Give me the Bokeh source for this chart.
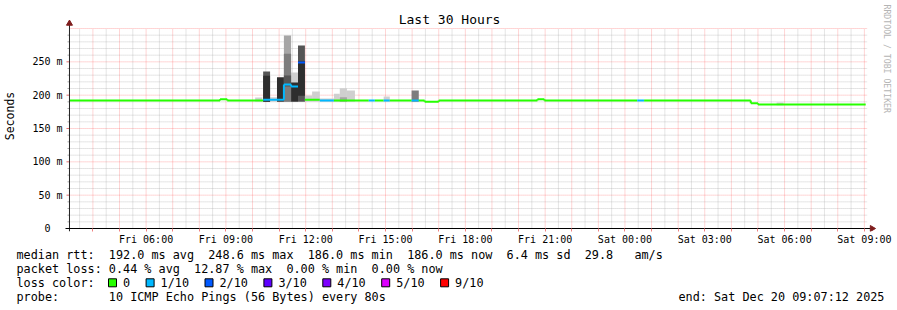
import math
from bokeh.plotting import figure
from bokeh.models import Range1d, FixedTicker, Label
from bokeh.layouts import column
from bokeh.embed import file_html
from bokeh.resources import INLINE
from bokeh.core.properties import value

MONO = "DejaVu Sans Mono"

# ---------------- data ----------------
# time axis: hours after Fri 00:00  (Fri 03:07:12 .. Sat 09:07:12)
t_start, t_end = 3.12, 33.12
x_tick_hours = [6, 9, 12, 15, 18, 21, 24, 27, 30, 33]
x_tick_labels = ["Fri 06:00", "Fri 09:00", "Fri 12:00", "Fri 15:00", "Fri 18:00",
                 "Fri 21:00", "Sat 00:00", "Sat 03:00", "Sat 06:00", "Sat 09:00"]
y_tick_values = [0, 50, 100, 150, 200, 250]
y_tick_labels = ["0\u00a0\u00a0", "50 m", "100 m", "150 m", "200 m", "250 m"]
y_max = 300

# median rtt (ms), piecewise by time span, with loss level (n of 10 pings lost)
med_start = [3.12, 8.78, 9.05, 10.40, 11.18, 11.45, 11.71, 11.97, 12.53, 13.06, 14.37, 14.60,
             14.93, 15.16, 15.98, 16.25, 16.47, 17.00, 20.71, 20.97, 24.46, 24.72, 28.73, 29.00]
med_end = [8.78, 9.05, 10.40, 11.18, 11.45, 11.71, 11.97, 12.53, 13.06, 14.37, 14.60, 14.93,
           15.16, 15.98, 16.25, 16.47, 17.00, 20.71, 20.97, 24.46, 24.72, 28.73, 29.00, 33.05]
med_rtt = [192, 194, 192, 193, 216, 213, 249, 193, 192, 192, 192, 192,
           192, 192, 192, 192, 190, 192, 194, 192, 192, 192, 188, 186]
med_loss = [0, 0, 0, 1, 1, 1, 2, 0, 1, 0, 1, 0,
            1, 0, 1, 0, 0, 0, 0, 0, 1, 0, 0, 0]

# smoke (spread of the pings): span, low/high rtt (ms), density level 1 (sparse) .. 5 (dense)
smoke_start = [10.10, 10.66, 10.40, 10.40, 10.92, 11.18, 11.18, 11.18, 11.45, 11.45, 11.71, 11.71,
               11.97, 12.24, 12.53, 13.06, 13.28, 13.28, 13.55, 14.93, 15.98, 29.70]
smoke_end = [10.37, 10.92, 10.66, 10.66, 11.18, 11.45, 11.45, 11.45, 11.71, 11.71, 11.97, 11.97,
             12.24, 12.53, 13.06, 13.28, 13.55, 13.55, 13.85, 15.16, 16.25, 29.96]
smoke_lo = [190, 190, 190, 190, 190, 190, 190, 213, 190, 190, 190, 199,
            190, 190, 190, 190, 190, 190, 190, 190, 190, 185]
smoke_hi = [196.5, 197, 235.5, 229, 227, 289.5, 262, 229.5, 234, 219, 274.5, 251,
            199.5, 205.5, 195, 202, 210.5, 197, 207, 198, 207, 189]
smoke_level = [1, 1, 4, 5, 5, 2, 3, 4, 1, 5, 4, 5,
               1, 1, 1, 1, 1, 2, 1, 1, 3, 1]

loss_labels = ["0", "1/10", "2/10", "3/10", "4/10", "5/10", "9/10"]
loss_levels = [0, 1, 2, 3, 4, 5, 9]
loss_colors = ["#26ff00", "#00b8ff", "#0059ff", "#5e00ff", "#7e00ff", "#dd00ff", "#ff0000"]

stat_lines = [
    "median rtt:  192.0 ms avg  248.6 ms max  186.0 ms min  186.0 ms now  6.4 ms sd  29.8   am/s",
    "packet loss: 0.44 % avg  12.87 % max  0.00 % min  0.00 % now",
]
loss_title = "loss color:"
probe_text = "probe:       10 ICMP Echo Pings (56 Bytes) every 80s"
end_text = "end: Sat Dec 20 09:07:12 2025"
title_text = "Last 30 Hours"
y_label = "Seconds"
watermark = "RRDTOOL / TOBI OETIKER"

# ---------------- geometry (canvas px) ----------------
W, H_MAIN, H_LEG = 897, 247, 63
PL, PR = 67, 867        # plot area left/right
PT, PB = 28, 228        # plot area top/bottom (y_max / 0)
FL, FB = 60, 231        # frame left / bottom edge
kx = (t_end - t_start) / (PR - PL)     # hours per px
ky = y_max / (PB - PT)                 # ms per px


def hx(px):
    return t_start + (px - PL) * kx


def my(py):
    return (PB - py) * ky


p = figure(width=W, height=H_MAIN,
           x_range=Range1d(hx(FL), hx(W)), y_range=Range1d(my(FB), my(0)),
           output_backend="svg", toolbar_location=None, title=None,
           min_border_left=FL, min_border_right=0, min_border_top=0,
           min_border_bottom=H_MAIN - FB, background_fill_color="white",
           border_fill_color="white", outline_line_color=None)
p.xgrid.visible = False
p.ygrid.visible = False

hours_all = list(range(4, 34))
half_hours = [h + 0.5 for h in range(3, 33)]
lab_map = dict(zip(x_tick_hours, x_tick_labels))

# x axis (labels + small red ticks below the axis line)
xa = p.xaxis[0]
xa.ticker = FixedTicker(ticks=hours_all, minor_ticks=[])
xa.major_label_overrides = {h: lab_map.get(h, "") for h in hours_all}
xa.axis_line_color = None
xa.major_tick_in = 3
xa.major_tick_out = 0
xa.major_tick_line_color = "#f08080"
xa.minor_tick_line_color = None
xa.major_label_text_font = MONO
xa.major_label_text_font_size = "10px"
xa.major_label_text_color = "black"
xa.major_label_standoff = 2

# y axis (labels only; lines/ticks drawn below)
ya = p.yaxis[0]
ya.ticker = FixedTicker(ticks=y_tick_values, minor_ticks=[])
ya.major_label_overrides = dict(zip(y_tick_values, y_tick_labels))
ya.axis_line_color = None
ya.major_tick_line_color = None
ya.minor_tick_line_color = None
ya.major_tick_in = 0
ya.major_tick_out = 0
ya.major_label_standoff = 0
ya.major_label_text_font = MONO
ya.major_label_text_font_size = "10px"
ya.major_label_text_color = "black"
ya.axis_label = y_label
ya.axis_label_text_font = MONO
ya.axis_label_text_font_size = "11.5px"
ya.axis_label_text_font_style = "normal"
ya.axis_label_text_color = "black"
ya.axis_label_standoff = 12

# grid (dotted 1:1), minor grey then major red, confined to the plot area
minor_y = [v for v in range(10, y_max, 10) if v % 50]
major_y = list(range(50, y_max + 1, 50))
p.segment(x0=half_hours, y0=[0] * len(half_hours), x1=half_hours, y1=[y_max] * len(half_hours),
          line_color="#9a9a9a", line_alpha=0.5, line_dash="1 1", line_width=1)
p.segment(x0=[t_start] * len(minor_y), y0=minor_y, x1=[t_end] * len(minor_y), y1=minor_y,
          line_color="#9a9a9a", line_alpha=0.5, line_dash="1 1", line_width=1)
p.segment(x0=hours_all, y0=[0] * len(hours_all), x1=hours_all, y1=[y_max] * len(hours_all),
          line_color="#ff0000", line_alpha=0.33, line_dash="1 1", line_width=1)
p.segment(x0=[t_start] * len(major_y), y0=major_y, x1=[t_end] * len(major_y), y1=major_y,
          line_color="#ff0000", line_alpha=0.33, line_dash="1 1", line_width=1)

# y tick marks left of the axis
p.segment(x0=[hx(PL - 2)] * len(minor_y), y0=minor_y, x1=[t_start] * len(minor_y), y1=minor_y,
          line_color="#aaaaaa", line_width=1)
p.segment(x0=[hx(PL - 3)] * len(y_tick_values), y0=y_tick_values,
          x1=[t_start] * len(y_tick_values), y1=y_tick_values, line_color="#e07070", line_width=1)

# smoke
shade = {1: "#cfcfcf", 2: "#a6a6a6", 3: "#7d7d7d", 4: "#555555", 5: "#2e2e2e"}
order = sorted(range(len(smoke_start)), key=lambda i: smoke_level[i])
p.quad(left=[smoke_start[i] for i in order], right=[smoke_end[i] for i in order],
       bottom=[smoke_lo[i] for i in order], top=[smoke_hi[i] for i in order],
       fill_color=[shade[smoke_level[i]] for i in order], line_color=None)

# median line coloured by loss
col_by_level = dict(zip(loss_levels, loss_colors))
seg_col = [col_by_level[l] for l in med_loss]
p.segment(x0=med_start, y0=med_rtt, x1=med_end, y1=med_rtt, line_color=seg_col, line_width=2)
cx, cy0, cy1, cc = [], [], [], []
for i in range(len(med_start) - 1):
    if med_loss[i] == med_loss[i + 1] and med_rtt[i] != med_rtt[i + 1]:
        cx.append(med_end[i]); cy0.append(med_rtt[i]); cy1.append(med_rtt[i + 1]); cc.append(seg_col[i])
if cx:
    p.segment(x0=cx, y0=cy0, x1=cx, y1=cy1, line_color=cc, line_width=2)

# axis lines with arrow heads
p.segment(x0=[t_start], y0=[my(PB + 3)], x1=[t_start], y1=[my(PT - 5)], line_color="#222222", line_width=1)
p.segment(x0=[hx(PL - 4)], y0=[0], x1=[hx(PR + 3)], y1=[0], line_color="black", line_width=1)
p.scatter(x=[t_start], y=[my(PT - 5)], marker="triangle", size=6,
          fill_color="#7f1d1d", line_color="#7f1d1d")
p.scatter(x=[hx(PR + 4.5)], y=[0], marker="triangle", angle=-math.pi / 2, size=6,
          fill_color="#7f1d1d", line_color="#7f1d1d")

# title and watermark (inside the frame area)
p.add_layout(Label(x=hx(448), y=my(19), text=title_text, text_align="center", text_baseline="middle",
                   text_font=MONO, text_font_size="13px", text_color="black"))
p.add_layout(Label(x=hx(886), y=my(4), text=watermark, angle=-math.pi / 2, text_align="left",
                   text_baseline="middle", text_font=MONO, text_font_size="8.2px", text_color="#b4b4b4"))

# ---------------- legend block ----------------
lg = figure(width=W, height=H_LEG, x_range=Range1d(0, W), y_range=Range1d(H_LEG, 0),
            output_backend="svg", toolbar_location=None, title=None,
            x_axis_type=None, y_axis_type=None, min_border=0,
            min_border_left=0, min_border_right=0, min_border_top=0, min_border_bottom=0,
            background_fill_color="white", border_fill_color="white", outline_line_color=None)
lg.xgrid.visible = False
lg.ygrid.visible = False
for fig in (p, lg):
    try:
        fig.frame_align = False
    except AttributeError:
        pass


def nb(s):
    return s.replace(" ", "\u00a0")


row_y = [254.3 - H_MAIN, 268.3 - H_MAIN, 282.3 - H_MAIN, 296.5 - H_MAIN]
FS = "11.8px"
CW = 7.1
lg.text(x=[16, 16, 16, 16], y=row_y,
        text=[nb(stat_lines[0]), nb(stat_lines[1]), nb(loss_title), nb(probe_text)],
        text_font=value(MONO), text_font_size=FS, text_baseline="middle", text_align="left",
        text_color="black")
lg.text(x=[678], y=[row_y[3]], text=[nb(end_text)], text_font=value(MONO), text_font_size=FS,
        text_baseline="middle", text_align="left", text_color="black")

bx, tx = [], []
cur = 108.0
for lab in loss_labels:
    bx.append(cur)
    tx.append(cur + 14.5)
    cur = cur + 14.5 + len(lab) * CW + 16
lg.quad(left=bx, right=[b + 8 for b in bx], top=[row_y[2] - 4] * len(bx),
        bottom=[row_y[2] + 4] * len(bx), fill_color=loss_colors, line_color="black", line_width=1)
lg.text(x=tx, y=[row_y[2]] * len(tx), text=loss_labels, text_font=value(MONO), text_font_size=FS,
        text_baseline="middle", text_align="left", text_color="black")

layout = column(p, lg, spacing=0)
open("out.html", "w").write(file_html(layout, INLINE))
